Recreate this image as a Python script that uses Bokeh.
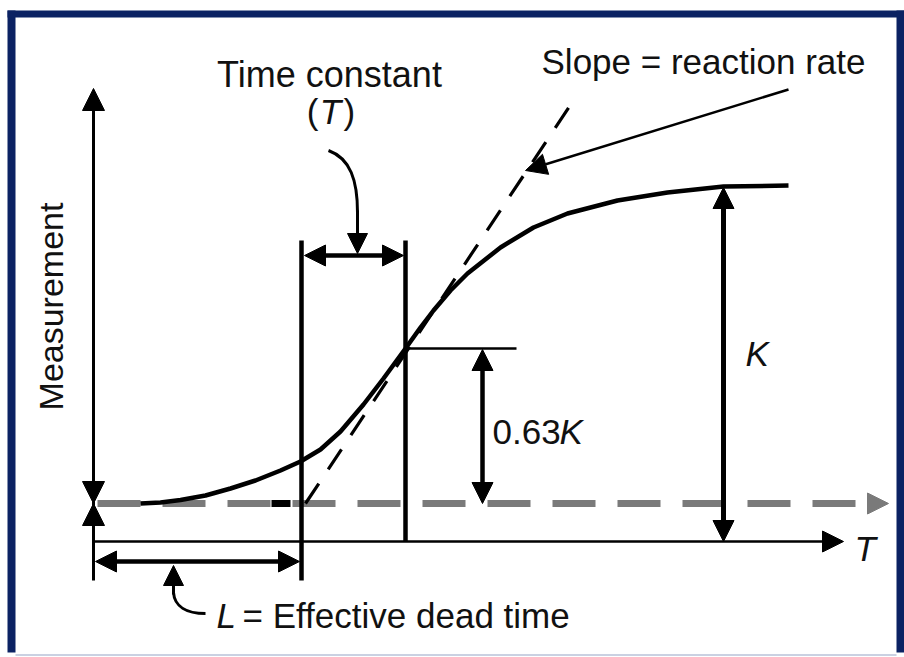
from bokeh.plotting import figure
from bokeh.models import Range1d, Arrow, NormalHead
from bokeh.core.properties import value
from bokeh.embed import file_html
from bokeh.resources import INLINE
import math

# ---- data (in picture coordinates) ----
curve_x = [140, 160, 180, 205, 230, 255, 280, 300, 320, 340, 363, 383, 405,
           420, 433, 450, 467, 500, 533, 567, 617, 667, 723, 788]
curve_y = [503, 502, 499.5, 495, 488, 480, 470, 461, 449, 431, 404, 378, 348,
           327, 310, 290, 273, 247, 227, 213, 200, 192, 186, 185]
tangent_x = [305, 569]
tangent_y = [503, 106]
baseline_y = 503          # dashed steady-state level (start)
axis_y = 541              # time axis
yaxis_x = 93
dead_time_x = 301         # end of dead time L
tau_x = 405               # end of time constant T
k63_y = 348               # 0.63K level
final_y = 186             # final value level
labels = ["Time constant", "Slope = reaction rate", "Measurement",
          "0.63", "K", "T", "L", "= Effective dead time"]

FONT = value("Liberation Sans")
NAVY = "#0b2263"
GREY = "#7a7a7a"

p = figure(width=904, height=657, x_range=Range1d(0, 904), y_range=Range1d(657, 0),
           output_backend="svg", toolbar_location=None, min_border=0,
           x_axis_type=None, y_axis_type=None)
p.grid.visible = False
p.outline_line_color = None
p.background_fill_color = "white"
p.border_fill_color = "white"

# frame
p.quad(left=[7, 7, 896], right=[15, 904, 904], top=[10, 10, 10], bottom=[652, 17, 652],
       fill_color=NAVY, line_color=None)
p.line([15, 896], [654.5, 654.5], line_color="#b8c2d8", line_width=1.5)

def arrow(x0, y0, x1, y1, lw=4, both=False, size=21, color="black"):
    head = lambda: NormalHead(size=size, fill_color=color, line_color=color, line_width=1)
    a = Arrow(end=head(), start=head() if both else None,
              x_start=x0, y_start=y0, x_end=x1, y_end=y1,
              line_width=lw, line_color=color)
    p.add_layout(a)

# dashed baseline with grey arrowhead
p.line([97, 860], [baseline_y, baseline_y], line_color=GREY, line_width=7, line_dash="43 22")
arrow(866, baseline_y, 888, baseline_y, lw=0, size=21, color=GREY)
p.line([271, 290], [baseline_y, baseline_y], line_color="black", line_width=7)

# tangent (slope)
p.line(tangent_x, tangent_y, line_color="black", line_width=3.2, line_dash="24 17")

# response curve
p.line(curve_x, curve_y, line_color="black", line_width=4.5)

# measurement axis
p.line([yaxis_x, yaxis_x], [100, 580], line_color="black", line_width=3)
arrow(yaxis_x, 130, yaxis_x, 88, lw=3, size=22)
arrow(yaxis_x, 470, yaxis_x, baseline_y, lw=3, size=22)
arrow(yaxis_x, 536, yaxis_x, baseline_y, lw=3, size=22)

# time axis
arrow(yaxis_x, axis_y, 843, axis_y, lw=2.5, size=21)

# vertical markers
p.line([dead_time_x, dead_time_x], [240, 580], line_color="black", line_width=4.5)
p.line([tau_x, tau_x], [240, axis_y], line_color="black", line_width=4.5)
p.line([tau_x, 516], [k63_y, k63_y], line_color="black", line_width=2.5)

# dimension arrows
arrow(yaxis_x + 2, 561, dead_time_x - 2, 561, lw=4.5, both=True)
arrow(tau_x - 101, 255, tau_x - 2, 255, lw=4.5, both=True)
arrow(482, k63_y + 1, 482, baseline_y, lw=4.5, both=True)
arrow(723, final_y + 1, 723, axis_y, lw=5, both=True)

# slope pointer
arrow(788, 89, 525, 170, lw=2.5, size=21)

# leaders
p.bezier(x0=[328], y0=[150], x1=[357], y1=[212], cx0=[350], cy0=[158], cx1=[357], cy1=[180],
         line_color="black", line_width=3)
arrow(357, 210, 357, 253, lw=3, size=20)
p.bezier(x0=[205], y0=[613], x1=[173], y1=[592], cx0=[186], cy0=[613], cx1=[174], cy1=[606],
         line_color="black", line_width=3)
arrow(173, 594, 173, 565, lw=3, size=20)

# texts
def txt(x, y, s, align="left", italic=False, angle=0, size="35px", baseline="alphabetic"):
    p.text(x=[x], y=[y], text=[s], text_font=FONT, text_font_size=size,
           text_font_style="italic" if italic else "normal", text_color="#111111",
           text_align=align, text_baseline=baseline, angle=angle)

txt(329, 74, labels[0], align="center", size="36px")
txt(318, 111, "(", align="right", size="35px")
txt(330, 111, "T", align="center", italic=True, size="35px")
txt(343, 111, ")", align="left", size="35px")
txt(703, 61, labels[1], align="center", size="35px")
txt(50, 306, labels[2], align="center", angle=math.pi / 2, baseline="middle", size="34px")
txt(492, 431, labels[3])
txt(559, 431, labels[4], italic=True)
txt(745, 353, labels[4], italic=True)
txt(854, 548, labels[5], italic=True)
txt(216, 615, labels[6], italic=True)
txt(242, 615, labels[7])

open("out.html", "w").write(file_html(p, INLINE))
